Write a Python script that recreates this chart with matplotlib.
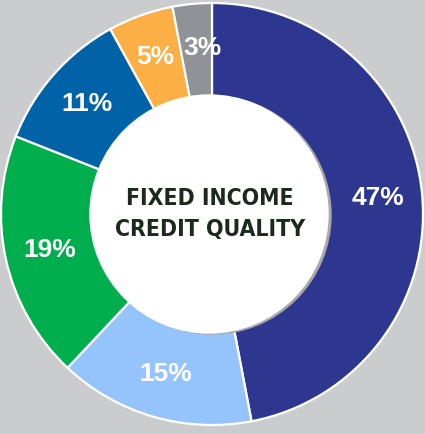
import matplotlib.pyplot as plt
from matplotlib.patches import Circle

labels = ["47%", "15%", "19%", "11%", "5%", "3%"]
values = [47, 15, 19, 11, 5, 3]
colors = ["#2E3790", "#94C4FB", "#00AE4E", "#0063A7", "#FBAF45", "#8F9397"]
title = "FIXED INCOME\nCREDIT QUALITY"

bg = "#CBCCCE"
fig = plt.figure(figsize=(4.25, 4.34), dpi=100, facecolor=bg)
ax = fig.add_axes([0, 0, 1, 1])
ax.set_facecolor(bg)

# pixel-like coordinates: 1 unit = 1 px
wedges, texts, autotexts = ax.pie(
    values, colors=colors, startangle=90, counterclock=False,
    center=(212, 220), radius=211,
    autopct=lambda p: f"{p:.0f}%", pctdistance=0.79,
    wedgeprops=dict(edgecolor="white", linewidth=1.6),
    textprops=dict(color="white", fontsize=19, fontweight="bold",
                   family="Liberation Sans"),
)
autotexts[-1].set_x(autotexts[-1].get_position()[0] + 6)

# center disc with a light shadow on the right
ax.add_patch(Circle((212, 219), 119, color="#A9A9AB", zorder=3))
ax.add_patch(Circle((209, 220), 119, color="white", zorder=4))
ax.text(210, 220, title, ha="center", va="center", zorder=5,
        fontsize=16.5, fontweight="bold", color="#1B2A1B", linespacing=1.4,
        family="DejaVu Sans", fontstretch="condensed")

ax.set_xlim(0, 425)
ax.set_ylim(0, 434)
ax.set_aspect("auto")
ax.axis("off")

fig.savefig("out.png", dpi=100, facecolor=bg)
